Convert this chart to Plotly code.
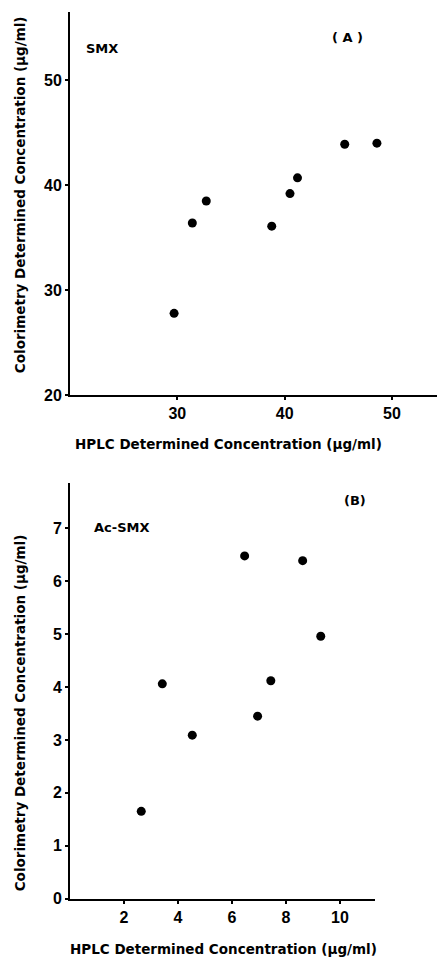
import plotly.graph_objects as go

# Panel A: SMX
smx_hplc = [29.7, 31.4, 32.7, 38.8, 40.5, 41.2, 45.6, 48.6]
smx_color = [27.8, 36.4, 38.5, 36.1, 39.2, 40.7, 43.9, 44.0]
a_xticks = [30, 40, 50]
a_yticks = [20, 30, 40, 50]

# Panel B: Ac-SMX
ac_hplc = [2.64, 3.42, 4.53, 6.47, 6.95, 7.44, 8.62, 9.29]
ac_color = [1.65, 4.06, 3.09, 6.48, 3.45, 4.12, 6.39, 4.96]
b_xticks = [2, 4, 6, 8, 10]
b_yticks = [0, 1, 2, 3, 4, 5, 6, 7]

W, H = 438, 967
FONT = "Liberation Sans, Arial, sans-serif"
TFONT = "DejaVu Sans, sans-serif"

fig = go.Figure()
fig.add_trace(go.Scatter(x=smx_hplc, y=smx_color, mode="markers",
                         marker=dict(color="black", size=9), xaxis="x", yaxis="y"))
fig.add_trace(go.Scatter(x=ac_hplc, y=ac_color, mode="markers",
                         marker=dict(color="black", size=9), xaxis="x2", yaxis="y2"))

def px_x(p):
    return p / W

def px_y(p):
    return 1 - p / H

axis_common = dict(showgrid=False, zeroline=False, showline=True, linecolor="black",
                   linewidth=2, ticks="outside", ticklen=3, tickwidth=1.5, tickcolor="black",
                   tickfont=dict(family=FONT, size=16, color="black", weight="bold"))

fig.update_layout(
    width=W, height=H, margin=dict(l=0, r=0, t=0, b=0),
    paper_bgcolor="white", plot_bgcolor="white", showlegend=False,
    xaxis=dict(domain=[px_x(70), px_x(437)], range=[20, 54.2], tickvals=a_xticks,
               anchor="y", **axis_common),
    yaxis=dict(domain=[px_y(399), px_y(12)], range=[20, 56.5], tickvals=a_yticks,
               anchor="x", **axis_common),
    xaxis2=dict(domain=[px_x(70), px_x(375)], range=[0, 11.3], tickvals=b_xticks,
                anchor="y2", **axis_common),
    yaxis2=dict(domain=[px_y(907), px_y(488)], range=[0, 7.85], tickvals=b_yticks,
                anchor="x2", **axis_common),
)

ytitle = "Colorimetry Determined Concentration (µg/ml)"
xtitle = "HPLC Determined Concentration (µg/ml)"
ann = [
    dict(text="<b>" + ytitle + "</b>", x=px_x(20), y=px_y(197), textangle=-90, size=13.5),
    dict(text="<b>" + xtitle + "</b>", x=px_x(228), y=px_y(448), textangle=0, size=13.5),
    dict(text="<b>" + ytitle + "</b>", x=px_x(20), y=px_y(720), textangle=-90, size=13.5),
    dict(text="<b>" + xtitle + "</b>", x=px_x(223), y=px_y(958), textangle=0, size=13.5),
    dict(text="<b>SMX</b>", x=px_x(102), y=px_y(49), textangle=0, size=13),
    dict(text="<b>( A )</b>", x=px_x(347), y=px_y(38), textangle=0, size=13),
    dict(text="<b>Ac-SMX</b>", x=px_x(122), y=px_y(532), textangle=0, size=13),
    dict(text="<b>(B)</b>", x=px_x(355), y=px_y(505), textangle=0, size=13),
]
for a in ann:
    fig.add_annotation(text=a["text"], x=a["x"], y=a["y"], xref="paper", yref="paper",
                       xanchor="center", yanchor="middle", showarrow=False,
                       textangle=a["textangle"],
                       font=dict(family=TFONT, size=a["size"], color="black"))

fig.write_html("out.html")
